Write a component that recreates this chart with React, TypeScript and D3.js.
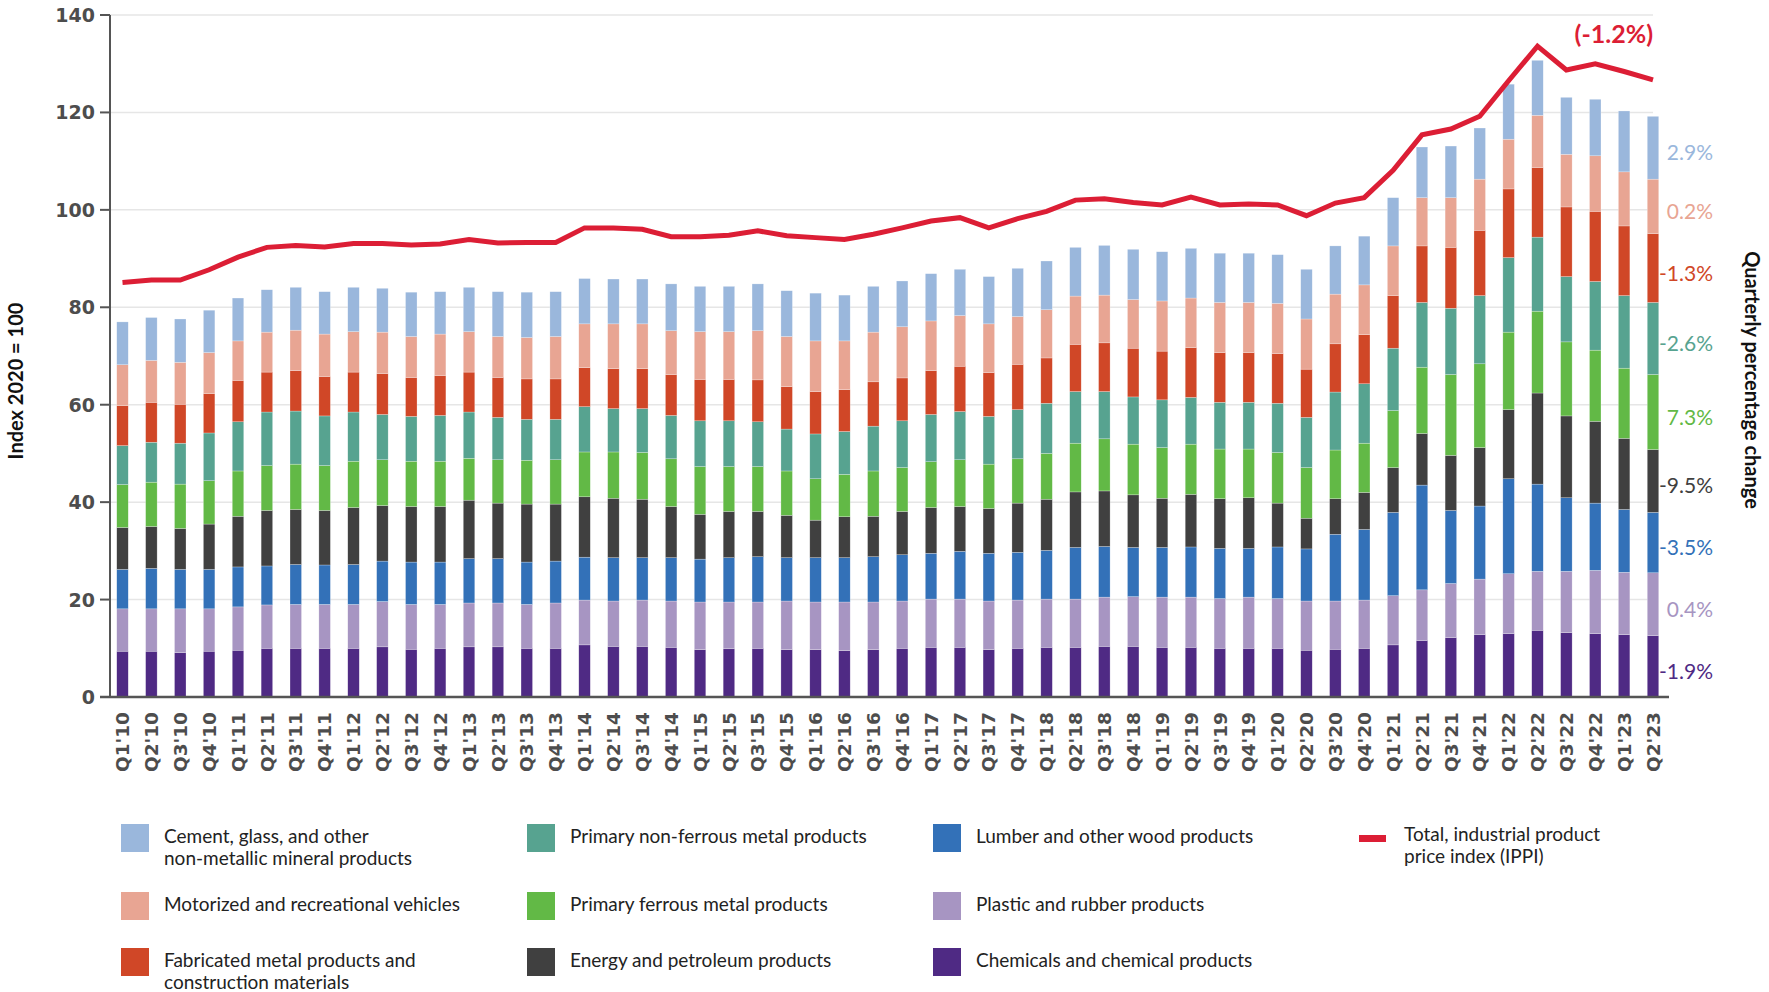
import React from 'react';
import * as d3 from 'd3';

// Quarters shown on the x axis
const quarters = [
  "Q1'10", "Q2'10", "Q3'10", "Q4'10", "Q1'11", "Q2'11", "Q3'11", "Q4'11",
  "Q1'12", "Q2'12", "Q3'12", "Q4'12", "Q1'13", "Q2'13", "Q3'13", "Q4'13",
  "Q1'14", "Q2'14", "Q3'14", "Q4'14", "Q1'15", "Q2'15", "Q3'15", "Q4'15",
  "Q1'16", "Q2'16", "Q3'16", "Q4'16", "Q1'17", "Q2'17", "Q3'17", "Q4'17",
  "Q1'18", "Q2'18", "Q3'18", "Q4'18", "Q1'19", "Q2'19", "Q3'19", "Q4'19",
  "Q1'20", "Q2'20", "Q3'20", "Q4'20", "Q1'21", "Q2'21", "Q3'21", "Q4'21",
  "Q1'22", "Q2'22", "Q3'22", "Q4'22", "Q1'23", "Q2'23",
];

// Weighted contributions of each product group (stacked bottom to top)
const chemicals = [
  9.4, 9.4, 9.1, 9.4, 9.6, 10.0, 10.0, 10.0, 10.0, 10.3,
  9.8, 10.0, 10.3, 10.3, 10.0, 10.0, 10.7, 10.4, 10.4, 10.2,
  9.7, 9.9, 10.0, 9.7, 9.7, 9.5, 9.7, 10.0, 10.2, 10.2,
  9.7, 10.0, 10.2, 10.2, 10.4, 10.4, 10.2, 10.2, 10.0, 10.0,
  10.0, 9.6, 9.8, 10.0, 10.7, 11.6, 12.2, 12.8, 13.0, 13.7,
  13.2, 13.0, 12.8, 12.6,
];
const plastic = [
  8.7, 8.7, 9.0, 8.7, 8.9, 8.9, 9.0, 9.0, 9.0, 9.3,
  9.2, 9.0, 9.0, 9.0, 9.0, 9.3, 9.2, 9.3, 9.5, 9.5,
  9.8, 9.6, 9.5, 10.0, 9.8, 10.0, 9.8, 9.7, 9.9, 9.9,
  10.0, 9.9, 9.9, 9.9, 10.1, 10.2, 10.3, 10.3, 10.2, 10.5,
  10.2, 10.1, 9.9, 9.9, 10.1, 10.4, 11.1, 11.4, 12.3, 12.1,
  12.6, 13.0, 12.8, 12.9,
];
const lumber = [
  8.1, 8.3, 8.1, 8.1, 8.2, 8.0, 8.2, 8.1, 8.2, 8.3,
  8.7, 8.7, 9.1, 9.1, 8.7, 8.6, 8.8, 8.9, 8.7, 8.9,
  8.8, 9.1, 9.3, 8.9, 9.1, 9.1, 9.3, 9.5, 9.4, 9.8,
  9.8, 9.8, 10.0, 10.6, 10.4, 10.1, 10.2, 10.3, 10.3, 10.0,
  10.6, 10.7, 13.7, 14.5, 17.1, 21.5, 15.0, 15.0, 19.5, 17.9,
  15.1, 13.8, 12.9, 12.4,
];
const energy = [
  8.6, 8.6, 8.4, 9.3, 10.4, 11.4, 11.3, 11.2, 11.7, 11.4,
  11.4, 11.4, 12.0, 11.4, 11.9, 11.7, 12.4, 12.2, 12.0, 10.5,
  9.2, 9.5, 9.3, 8.7, 7.7, 8.4, 8.3, 8.9, 9.4, 9.2,
  9.2, 10.1, 10.5, 11.4, 11.4, 10.8, 10.1, 10.8, 10.2, 10.4,
  9.0, 6.3, 7.3, 7.6, 9.2, 10.6, 11.3, 12.0, 14.2, 18.7,
  16.8, 16.8, 14.6, 12.9,
];
const ferrous = [
  8.8, 9.1, 9.1, 8.9, 9.3, 9.2, 9.3, 9.2, 9.5, 9.4,
  9.3, 9.3, 8.6, 8.9, 9.0, 9.1, 9.2, 9.5, 9.6, 9.8,
  9.8, 9.2, 9.2, 9.1, 8.5, 8.7, 9.3, 9.0, 9.4, 9.6,
  9.1, 9.1, 9.4, 10.0, 10.7, 10.4, 10.4, 10.3, 10.2, 10.0,
  10.4, 10.4, 10.0, 10.1, 11.7, 13.6, 16.6, 17.2, 15.9, 16.8,
  15.2, 14.6, 14.4, 15.4,
];
const nonFerrous = [
  8.0, 8.2, 8.4, 9.8, 10.1, 11.0, 10.9, 10.2, 10.1, 9.3,
  9.2, 9.4, 9.5, 8.7, 8.4, 8.3, 9.3, 8.9, 9.0, 8.9,
  9.4, 9.4, 9.2, 8.6, 9.2, 8.8, 9.2, 9.6, 9.7, 9.9,
  9.8, 10.1, 10.3, 10.6, 9.7, 9.7, 9.8, 9.6, 9.6, 9.6,
  10.1, 10.3, 11.9, 12.2, 12.8, 13.3, 13.6, 14.0, 15.3, 15.2,
  13.4, 14.1, 14.9, 14.8,
];
const fabricated = [
  8.2, 8.2, 8.0, 8.1, 8.5, 8.2, 8.3, 8.1, 8.2, 8.4,
  8.0, 8.2, 8.2, 8.2, 8.3, 8.3, 8.0, 8.2, 8.2, 8.4,
  8.5, 8.5, 8.6, 8.7, 8.7, 8.6, 9.1, 8.8, 9.0, 9.3,
  9.0, 9.3, 9.3, 9.7, 10.0, 10.0, 10.0, 10.2, 10.2, 10.2,
  10.2, 9.9, 9.9, 10.1, 10.8, 11.6, 12.5, 13.4, 14.1, 14.3,
  14.3, 14.4, 14.3, 14.1,
];
const motorized = [
  8.4, 8.6, 8.6, 8.4, 8.1, 8.2, 8.3, 8.7, 8.3, 8.5,
  8.4, 8.5, 8.3, 8.4, 8.5, 8.7, 9.0, 9.2, 9.2, 9.0,
  9.8, 9.8, 10.1, 10.3, 10.4, 10.0, 10.2, 10.5, 10.2, 10.4,
  10.0, 9.8, 9.9, 9.9, 9.8, 10.0, 10.3, 10.2, 10.3, 10.3,
  10.3, 10.3, 10.2, 10.2, 10.2, 9.9, 10.2, 10.5, 10.2, 10.7,
  10.8, 11.4, 11.1, 11.2,
];
const cement = [
  8.8, 8.8, 8.9, 8.7, 8.8, 8.7, 8.8, 8.7, 9.1, 9.0,
  9.1, 8.7, 9.1, 9.2, 9.3, 9.2, 9.3, 9.2, 9.2, 9.6,
  9.3, 9.3, 9.6, 9.4, 9.8, 9.4, 9.4, 9.4, 9.7, 9.5,
  9.7, 9.9, 10.0, 10.0, 10.2, 10.3, 10.1, 10.2, 10.1, 10.1,
  10.0, 10.2, 9.9, 10.0, 9.9, 10.4, 10.6, 10.5, 11.3, 11.3,
  11.7, 11.6, 12.5, 12.9,
];

// Total industrial product price index (line)
const ippi = [
  85.1, 85.6, 85.6, 87.7, 90.3, 92.3, 92.7, 92.4, 93.1, 93.1,
  92.8, 93.0, 93.9, 93.2, 93.3, 93.3, 96.3, 96.3, 96.0, 94.5,
  94.5, 94.8, 95.7, 94.7, 94.3, 93.9, 95.0, 96.3, 97.7, 98.4,
  96.3, 98.2, 99.7, 102.0, 102.3, 101.5, 101.0, 102.6, 101.0, 101.2,
  101.0, 98.8, 101.4, 102.5, 108.1, 115.4, 116.6, 119.2, 126.5, 133.6,
  128.7, 130.0, 128.4, 126.7,
];
const ippiChange = '(-1.2%)';

// Series metadata, bottom of the stack first
const seriesKeys = ['chemicals', 'plastic', 'lumber', 'energy', 'ferrous', 'nonFerrous', 'fabricated', 'motorized', 'cement'];
const seriesValues = [chemicals, plastic, lumber, energy, ferrous, nonFerrous, fabricated, motorized, cement];
const seriesColors = ['#4f2a84', '#a795c2', '#3371b8', '#404040', '#62b946', '#57a390', '#d04727', '#e8a593', '#9ab7dc'];
const seriesChanges = ['-1.9%', '0.4%', '-3.5%', '-9.5%', '7.3%', '-2.6%', '-1.3%', '0.2%', '2.9%'];
const seriesLabels = [
  ['Chemicals and chemical products'],
  ['Plastic and rubber products'],
  ['Lumber and other wood products'],
  ['Energy and petroleum products'],
  ['Primary ferrous metal products'],
  ['Primary non-ferrous metal products'],
  ['Fabricated metal products and', 'construction materials'],
  ['Motorized and recreational vehicles'],
  ['Cement, glass, and other', 'non-metallic mineral products'],
];
const lineLabel = ['Total, industrial product', 'price index (IPPI)'];
const lineColor = '#dc1e35';

const yTicks = [0, 20, 40, 60, 80, 100, 120, 140];

// Legend grid: [series index, column, row]
const legendLayout = [
  [8, 0, 0], [7, 0, 1], [6, 0, 2],
  [5, 1, 0], [4, 1, 1], [3, 1, 2],
  [2, 2, 0], [1, 2, 1], [0, 2, 2],
];

const W = 1769;
const H = 992;
const LATO = 'Lato, "Open Sans", sans-serif';
const TICK_FONT = '"DejaVu Sans", Verdana, sans-serif';

export default function App() {
  const x = d3.scalePoint<string>().domain(quarters).range([122.5, 1653]);
  const y = d3.scaleLinear().domain([0, 140]).range([697, 15]);
  const barW = 11.5;
  const axisX = 110;

  const table = quarters.map((q, i) => {
    const row: Record<string, any> = { quarter: q };
    seriesKeys.forEach((k, j) => { row[k] = seriesValues[j][i]; });
    return row;
  });
  const stacked = d3.stack<Record<string, any>>().keys(seriesKeys)(table);

  const linePath = d3.line<number>()
    .x((_, i) => x(quarters[i]) as number)
    .y((d) => y(d))(ippi) as string;

  const last = quarters.length - 1;
  const colX = [121, 527, 933];
  const rowY = [824, 892, 948];

  return (
    <svg width={W} height={H} style={{ position: 'absolute', left: 0, top: 0, background: '#fff' }}>
      {/* gridlines */}
      {yTicks.filter((t) => t > 0).map((t) => (
        <line key={'g' + t} x1={axisX} x2={1653} y1={y(t)} y2={y(t)} stroke="#e6e6e6" strokeWidth={1.5} />
      ))}

      {/* stacked bars */}
      {stacked.map((s, j) => (
        <g key={s.key} fill={seriesColors[j]}>
          {s.map((d, i) => (
            <rect
              key={i}
              x={(x(quarters[i]) as number) - barW / 2}
              width={barW}
              y={y(d[1])}
              height={y(d[0]) - y(d[1])}
              stroke="#ffffff"
              strokeWidth={0.5}
              strokeOpacity={0.5}
            />
          ))}
        </g>
      ))}

      {/* axes */}
      <line x1={axisX} x2={axisX} y1={y(140)} y2={y(0)} stroke="#555" strokeWidth={2} />
      {yTicks.map((t) => (
        <g key={'t' + t}>
          <line x1={100} x2={axisX} y1={y(t)} y2={y(t)} stroke="#555" strokeWidth={2} />
          <text
            x={95}
            y={y(t)}
            textAnchor="end"
            dominantBaseline="central"
            fontFamily={TICK_FONT}
            fontWeight="bold"
            fontSize={19}
            fill="#4d4d4d"
          >
            {t}
          </text>
        </g>
      ))}
      <line x1={100} x2={1669} y1={y(0)} y2={y(0)} stroke="#555" strokeWidth={2.5} />

      {/* x tick labels */}
      {quarters.map((q) => (
        <text
          key={q}
          transform={`translate(${x(q)},${712}) rotate(-90)`}
          textAnchor="end"
          dy="0.36em"
          fontFamily={TICK_FONT}
          fontWeight="bold"
          fontSize={18.5}
          fill="#4d4d4d"
        >
          {q}
        </text>
      ))}

      {/* IPPI line */}
      <path d={linePath} fill="none" stroke={lineColor} strokeWidth={5} strokeLinejoin="miter" />
      <text x={1653} y={43} textAnchor="end" fontFamily={LATO} fontWeight="bold" fontSize={25} fill={lineColor}>
        {ippiChange}
      </text>

      {/* quarterly change labels beside the last bar */}
      {stacked.map((s, j) => {
        const d = s[last];
        return (
          <text
            key={'c' + s.key}
            x={1713}
            y={(y(d[0]) + y(d[1])) / 2 + 4}
            textAnchor="end"
            dominantBaseline="central"
            fontFamily={LATO}
            fontSize={21}
            fill={seriesColors[j]}
          >
            {seriesChanges[j]}
          </text>
        );
      })}

      {/* axis titles */}
      <text
        transform="translate(15,381) rotate(-90)"
        textAnchor="middle"
        dominantBaseline="central"
        fontFamily={LATO}
        fontWeight="bold"
        fontSize={20}
        fill="#111"
      >
        Index 2020 = 100
      </text>
      <text
        transform="translate(1753,380) rotate(90)"
        textAnchor="middle"
        dominantBaseline="central"
        fontFamily={LATO}
        fontWeight="bold"
        fontSize={20}
        fill="#111"
      >
        Quarterly percentage change
      </text>

      {/* legend */}
      {legendLayout.map(([si, c, r]) => (
        <g key={'l' + si} transform={`translate(${colX[c]},${rowY[r]})`}>
          <rect width={28} height={28} fill={seriesColors[si]} />
          <text x={43} y={19} fontFamily={LATO} fontSize={19} fill="#222">
            {seriesLabels[si].map((t, k) => (
              <tspan key={k} x={43} dy={k === 0 ? 0 : 22}>{t}</tspan>
            ))}
          </text>
        </g>
      ))}
      <g transform="translate(1359,824)">
        <rect y={11} width={27} height={7} fill={lineColor} />
        <text x={45} y={17} fontFamily={LATO} fontSize={19} fill="#222">
          {lineLabel.map((t, k) => (
            <tspan key={k} x={45} dy={k === 0 ? 0 : 22}>{t}</tspan>
          ))}
        </text>
      </g>
    </svg>
  );
}
